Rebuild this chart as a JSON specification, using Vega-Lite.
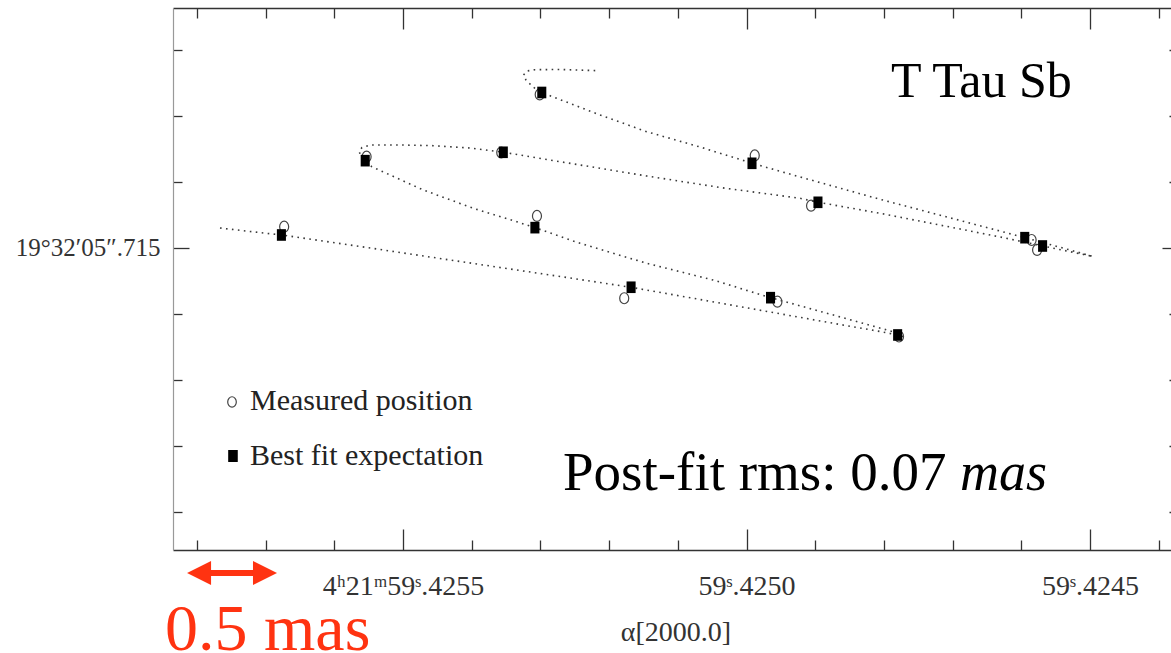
{
  "$schema": "https://vega.github.io/schema/vega-lite/v6.json",
  "width": 1005,
  "height": 542,
  "autosize": {"type": "none"},
  "padding": {"left": 173, "top": 8, "right": 0, "bottom": 103},
  "background": "white",
  "config": {
    "view": {"stroke": null},
    "font": "Liberation Serif",
    "axis": {"grid": false, "labelFont": "Liberation Serif", "titleFont": "Liberation Serif", "tickColor": "#333", "tickWidth": 1.3, "labelOverlap": false, "labelFlush": false}
  },
  "datasets": {
    "orbit": [
      {"t": 1, "ra": 59.4257664, "dec": 5.7153030},
      {"t": 2, "ra": 59.4257227, "dec": 5.7152500},
      {"t": 3, "ra": 59.4256766, "dec": 5.7151970},
      {"t": 4, "ra": 59.4255771, "dec": 5.7150455},
      {"t": 5, "ra": 59.4254753, "dec": 5.7148864},
      {"t": 6, "ra": 59.4253588, "dec": 5.7147045},
      {"t": 7, "ra": 59.4252569, "dec": 5.7145455},
      {"t": 8, "ra": 59.4251681, "dec": 5.7144045},
      {"t": 9, "ra": 59.4250677, "dec": 5.7142197},
      {"t": 10, "ra": 59.4249658, "dec": 5.7140303},
      {"t": 11, "ra": 59.4248639, "dec": 5.7138409},
      {"t": 12, "ra": 59.4248057, "dec": 5.7137348},
      {"t": 13, "ra": 59.4247802, "dec": 5.7136818},
      {"t": 14, "ra": 59.4247737, "dec": 5.7136636},
      {"t": 15, "ra": 59.4247766, "dec": 5.7136970},
      {"t": 16, "ra": 59.4247868, "dec": 5.7137318},
      {"t": 17, "ra": 59.4248639, "dec": 5.7139561},
      {"t": 18, "ra": 59.4249648, "dec": 5.7142470},
      {"t": 19, "ra": 59.4250488, "dec": 5.7145152},
      {"t": 20, "ra": 59.4251453, "dec": 5.7147682},
      {"t": 21, "ra": 59.4252424, "dec": 5.7150712},
      {"t": 22, "ra": 59.4253079, "dec": 5.7153076},
      {"t": 23, "ra": 59.4253345, "dec": 5.7153985},
      {"t": 24, "ra": 59.4253977, "dec": 5.7156015},
      {"t": 25, "ra": 59.4254705, "dec": 5.7158788},
      {"t": 26, "ra": 59.4255456, "dec": 5.7162318},
      {"t": 27, "ra": 59.4255553, "dec": 5.7163227},
      {"t": 28, "ra": 59.4255611, "dec": 5.7163939},
      {"t": 29, "ra": 59.4255640, "dec": 5.7164621},
      {"t": 30, "ra": 59.4255597, "dec": 5.7165227},
      {"t": 31, "ra": 59.4255480, "dec": 5.7165606},
      {"t": 32, "ra": 59.4255044, "dec": 5.7165606},
      {"t": 33, "ra": 59.4254563, "dec": 5.7165500},
      {"t": 34, "ra": 59.4254025, "dec": 5.7165152},
      {"t": 35, "ra": 59.4253540, "dec": 5.7164500},
      {"t": 36, "ra": 59.4252424, "dec": 5.7162576},
      {"t": 37, "ra": 59.4251453, "dec": 5.7160909},
      {"t": 38, "ra": 59.4250386, "dec": 5.7159167},
      {"t": 39, "ra": 59.4249221, "dec": 5.7157530},
      {"t": 40, "ra": 59.4248955, "dec": 5.7156924},
      {"t": 41, "ra": 59.4248057, "dec": 5.7155258},
      {"t": 42, "ra": 59.4246892, "dec": 5.7152879},
      {"t": 43, "ra": 59.4246310, "dec": 5.7151667},
      {"t": 44, "ra": 59.4245689, "dec": 5.7150303},
      {"t": 45, "ra": 59.4244956, "dec": 5.7148712},
      {"t": 46, "ra": 59.4245291, "dec": 5.7149697},
      {"t": 47, "ra": 59.4245946, "dec": 5.7151561},
      {"t": 48, "ra": 59.4246892, "dec": 5.7154167},
      {"t": 49, "ra": 59.4248057, "dec": 5.7157379},
      {"t": 50, "ra": 59.4249221, "dec": 5.7160758},
      {"t": 51, "ra": 59.4249916, "dec": 5.7162833},
      {"t": 52, "ra": 59.4250677, "dec": 5.7165303},
      {"t": 53, "ra": 59.4251453, "dec": 5.7167621},
      {"t": 54, "ra": 59.4252133, "dec": 5.7170152},
      {"t": 55, "ra": 59.4252763, "dec": 5.7172682},
      {"t": 56, "ra": 59.4252984, "dec": 5.7173561},
      {"t": 57, "ra": 59.4253108, "dec": 5.7174394},
      {"t": 58, "ra": 59.4253210, "dec": 5.7175455},
      {"t": 59, "ra": 59.4253246, "dec": 5.7176212},
      {"t": 60, "ra": 59.4253195, "dec": 5.7176818},
      {"t": 61, "ra": 59.4253079, "dec": 5.7177015},
      {"t": 62, "ra": 59.4252715, "dec": 5.7177045},
      {"t": 63, "ra": 59.4252162, "dec": 5.7176864}
    ],
    "positions": [
      {"kind": "Measured position", "epoch": 1, "ra": 59.425673, "dec": 5.715323},
      {"kind": "Measured position", "epoch": 2, "ra": 59.425553, "dec": 5.716383},
      {"kind": "Measured position", "epoch": 3, "ra": 59.425357, "dec": 5.716447},
      {"kind": "Measured position", "epoch": 4, "ra": 59.425301, "dec": 5.717326},
      {"kind": "Measured position", "epoch": 5, "ra": 59.425305, "dec": 5.715485},
      {"kind": "Measured position", "epoch": 6, "ra": 59.425178, "dec": 5.714238},
      {"kind": "Measured position", "epoch": 7, "ra": 59.424988, "dec": 5.716402},
      {"kind": "Measured position", "epoch": 8, "ra": 59.424906, "dec": 5.715641},
      {"kind": "Measured position", "epoch": 9, "ra": 59.424955, "dec": 5.714186},
      {"kind": "Measured position", "epoch": 10, "ra": 59.424778, "dec": 5.713659},
      {"kind": "Measured position", "epoch": 11, "ra": 59.424585, "dec": 5.715121},
      {"kind": "Measured position", "epoch": 12, "ra": 59.424577, "dec": 5.714970},
      {"kind": "Best fit expectation", "epoch": 1, "ra": 59.425677, "dec": 5.715197},
      {"kind": "Best fit expectation", "epoch": 2, "ra": 59.425555, "dec": 5.716323},
      {"kind": "Best fit expectation", "epoch": 3, "ra": 59.425354, "dec": 5.716450},
      {"kind": "Best fit expectation", "epoch": 4, "ra": 59.425298, "dec": 5.717356},
      {"kind": "Best fit expectation", "epoch": 5, "ra": 59.425308, "dec": 5.715308},
      {"kind": "Best fit expectation", "epoch": 6, "ra": 59.425168, "dec": 5.714405},
      {"kind": "Best fit expectation", "epoch": 7, "ra": 59.424992, "dec": 5.716283},
      {"kind": "Best fit expectation", "epoch": 8, "ra": 59.424896, "dec": 5.715692},
      {"kind": "Best fit expectation", "epoch": 9, "ra": 59.424965, "dec": 5.714247},
      {"kind": "Best fit expectation", "epoch": 10, "ra": 59.424780, "dec": 5.713682},
      {"kind": "Best fit expectation", "epoch": 11, "ra": 59.424595, "dec": 5.715156},
      {"kind": "Best fit expectation", "epoch": 12, "ra": 59.424569, "dec": 5.715030}
    ],
    "single": [{}]
  },
  "layer": [
    {
      "data": {"name": "orbit"},
      "mark": {"type": "line", "strokeDash": [1.6, 4.4], "strokeWidth": 1.6, "color": "#3a3a3a", "strokeCap": "butt"},
      "encoding": {
        "x": {
          "field": "ra", "type": "quantitative",
          "scale": {"domain": [59.4243719, 59.4258348], "reverse": true, "zero": false, "nice": false},
          "axis": {
            "orient": "top", "title": null, "labels": false,
            "values": [59.4258, 59.4257, 59.4256, 59.4255, 59.4254, 59.4253, 59.4252, 59.4251, 59.425, 59.4249, 59.4248, 59.4247, 59.4246, 59.4245, 59.4244],
            "tickSize": {"condition": {"test": "abs(datum.value - 59.4255) < 1e-7 || abs(datum.value - 59.425) < 1e-7 || abs(datum.value - 59.4245) < 1e-7", "value": -21}, "value": -10},
            "domainColor": "#333", "domainWidth": 1.5
          }
        },
        "y": {
          "field": "dec", "type": "quantitative",
          "scale": {"domain": [5.710424, 5.718636], "zero": false, "nice": false},
          "axis": {
            "orient": "right", "title": null, "labels": false,
            "values": [5.711, 5.712, 5.713, 5.714, 5.715, 5.716, 5.717, 5.718],
            "tickSize": {"condition": {"test": "abs(datum.value - 5.715) < 1e-7", "value": -16}, "value": -9},
            "domainColor": "#333", "domainWidth": 1.5
          }
        },
        "order": {"field": "t", "type": "quantitative"}
      }
    },
    {
      "layer": [
        {
          "data": {"name": "positions"},
          "transform": [{"filter": "datum.kind === 'Measured position'"}],
          "mark": {"type": "point", "shape": "M0,-1A0.82,1,0,1,1,0,1A0.82,1,0,1,1,0,-1Z", "size": 121, "filled": false, "stroke": "#444", "strokeWidth": 1.2, "opacity": 1},
          "encoding": {
            "x": {
              "field": "ra", "type": "quantitative",
              "scale": {"domain": [59.4243719, 59.4258348], "reverse": true, "zero": false, "nice": false},
              "axis": {
                "orient": "bottom", "title": "α[2000.0]",
                "titleFontSize": 28, "titleFontWeight": "normal", "titleColor": "#333", "titlePadding": 7,
                "values": [59.4258, 59.4257, 59.4256, 59.4255, 59.4254, 59.4253, 59.4252, 59.4251, 59.425, 59.4249, 59.4248, 59.4247, 59.4246, 59.4245, 59.4244],
                "labelExpr": "abs(datum.value - 59.4255) < 1e-7 ? '4ʰ21ᵐ59ˢ.4255' : abs(datum.value - 59.425) < 1e-7 ? '59ˢ.4250' : abs(datum.value - 59.4245) < 1e-7 ? '59ˢ.4245' : ''",
                "labelFontSize": 28, "labelColor": "#333", "labelBaseline": "alphabetic", "labelPadding": 65,
                "tickSize": {"condition": {"test": "abs(datum.value - 59.4255) < 1e-7 || abs(datum.value - 59.425) < 1e-7 || abs(datum.value - 59.4245) < 1e-7", "value": -21}, "value": -10},
                "domainColor": "#333", "domainWidth": 1.5
              }
            },
            "y": {
              "field": "dec", "type": "quantitative",
              "scale": {"domain": [5.710424, 5.718636], "zero": false, "nice": false},
              "axis": {
                "orient": "left", "title": null,
                "values": [5.711, 5.712, 5.713, 5.714, 5.715, 5.716, 5.717, 5.718],
                "labelExpr": "abs(datum.value - 5.715) < 1e-7 ? '19°32′05″.715' : ''",
                "labelFontSize": 25, "labelColor": "#333", "labelPadding": 29,
                "tickSize": {"condition": {"test": "abs(datum.value - 5.715) < 1e-7", "value": -16}, "value": -9},
                "domainColor": "#999", "domainWidth": 1.2
              }
            }
          }
        },
        {
          "data": {"name": "positions"},
          "transform": [{"filter": "datum.kind === 'Best fit expectation'"}],
          "mark": {"type": "point", "shape": "M-0.78,-1L0.78,-1L0.78,1L-0.78,1Z", "size": 135, "filled": true, "color": "#000", "opacity": 1},
          "encoding": {
            "x": {"field": "ra", "type": "quantitative"},
            "y": {"field": "dec", "type": "quantitative"}
          }
        },
        {
          "data": {"name": "single"},
          "layer": [
            {
              "mark": {"type": "point", "shape": "M0,-1A0.82,1,0,1,1,0,1A0.82,1,0,1,1,0,-1Z", "size": 110, "filled": false, "stroke": "#444", "strokeWidth": 1.2, "opacity": 1},
              "encoding": {"x": {"datum": 59.4257489}, "y": {"datum": 5.7126667}}
            },
            {
              "mark": {"type": "point", "shape": "M-0.8,-1L0.8,-1L0.8,1L-0.8,1Z", "size": 144, "filled": true, "color": "#000", "opacity": 1},
              "encoding": {"x": {"datum": 59.4257475}, "y": {"datum": 5.7118485}}
            },
            {
              "mark": {"type": "text", "text": "Measured position", "align": "left", "baseline": "alphabetic", "fontSize": 30, "color": "#222"},
              "encoding": {"x": {"datum": 59.4257227}, "y": {"datum": 5.7125379}}
            },
            {
              "mark": {"type": "text", "text": "Best fit expectation", "align": "left", "baseline": "alphabetic", "fontSize": 30, "color": "#222"},
              "encoding": {"x": {"datum": 59.4257227}, "y": {"datum": 5.7117121}}
            },
            {
              "mark": {"type": "text", "text": "T Tau Sb", "align": "left", "baseline": "alphabetic", "fontSize": 50, "color": "#000"},
              "encoding": {"x": {"datum": 59.4247897}, "y": {"datum": 5.7172879}}
            },
            {
              "mark": {"type": "text", "text": "Post-fit rms: 0.07", "align": "left", "baseline": "alphabetic", "fontSize": 55, "color": "#000"},
              "encoding": {"x": {"datum": 59.4252671}, "y": {"datum": 5.7113333}}
            },
            {
              "mark": {"type": "text", "text": "mas", "align": "left", "baseline": "alphabetic", "fontSize": 54, "fontStyle": "italic", "color": "#000"},
              "encoding": {"x": {"datum": 59.4246892}, "y": {"datum": 5.7113333}}
            },
            {
              "mark": {"type": "rule", "color": "#ff3311", "strokeWidth": 6},
              "encoding": {"x": {"datum": 59.4257969}, "x2": {"datum": 59.4257009}, "y": {"datum": 5.7100758}}
            },
            {
              "mark": {"type": "point", "shape": "M-1,0L1,-1L1,1Z", "size": 576, "filled": true, "color": "#ff3311", "opacity": 1},
              "encoding": {"x": {"datum": 59.4257969}, "y": {"datum": 5.7100758}}
            },
            {
              "mark": {"type": "point", "shape": "M1,0L-1,-1L-1,1Z", "size": 576, "filled": true, "color": "#ff3311", "opacity": 1},
              "encoding": {"x": {"datum": 59.4257009}, "y": {"datum": 5.7100758}}
            },
            {
              "mark": {"type": "text", "text": "0.5 mas", "align": "left", "baseline": "alphabetic", "fontSize": 66, "color": "#ff3311"},
              "encoding": {"x": {"datum": 59.4258464}, "y": {"datum": 5.7089091}}
            }
          ]
        }
      ]
    }
  ],
  "resolve": {"axis": {"x": "independent", "y": "independent"}}
}
